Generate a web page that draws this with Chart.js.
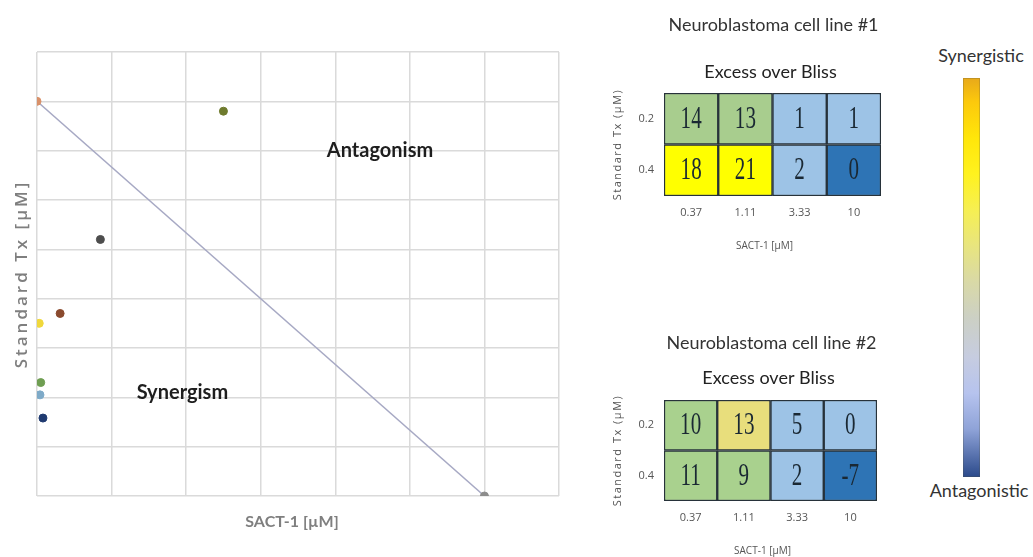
<!DOCTYPE html>
<html>
<head>
<meta charset="utf-8">
<script src="https://cdn.jsdelivr.net/npm/chart.js"></script>
<style>
  body { margin: 0; background: #fff; width: 1033px; height: 557px; position: relative; overflow: hidden; font-family: Lato, sans-serif; }
  canvas { position: absolute; }
  #scatter { left: 0; top: 0; }
  #heat1 { left: 590px; top: 0; }
  #heat2 { left: 590px; top: 320px; }
  .bar {
    position: absolute; left: 963px; top: 78px; width: 17px; height: 399px;
    background: linear-gradient(to bottom, #e8a91a 0%, #fcc90c 6%, #ffe60a 15%, #fff21e 24%, #f6ef52 33%, #e8e57e 42%, #d9d9a6 51%, #ccd0c4 60%, #c6cce0 70%, #b6c3ee 79%, #8fa3d8 88%, #2b4a8b 100%);
    box-shadow: inset 0 0 0 1px rgba(80,80,60,0.25);
  }
  .lbl { position: absolute; transform: translate(-50%, -50%); font-size: 18px; color: #333; white-space: nowrap; }
</style>
</head>
<body>
<canvas id="scatter" width="590" height="557"></canvas>
<canvas id="heat1" width="310" height="280"></canvas>
<canvas id="heat2" width="310" height="237"></canvas>
<div class="bar"></div>
<div class="lbl" style="left:981px;top:55px">Synergistic</div>
<div class="lbl" style="left:979px;top:490px">Antagonistic</div>
<script>
// isobologram points
const pointX = [0, 2.5, 0.85, 0.31, 0.03, 0.05, 0.04, 0.08, 6];
const pointY = [8, 7.8, 5.2, 3.7, 3.5, 2.3, 2.05, 1.58, 0];
const pointColors = ['#d9916a', '#6f7b2e', '#4d4d4d', '#8a4a2e', '#f0d83c', '#6f9e52', '#7eaac8', '#1f3a70', '#8c8c8c'];
// additivity line
const lineX = [0, 6];
const lineY = [8, 0];
// region labels
const regionNames = ['Antagonism', 'Synergism'];
const regionX = [4.6, 1.95];
const regionY = [7.0, 2.1];

// heatmaps: Excess over Bliss
const doseCols = ['0.37', '1.11', '3.33', '10'];
const doseRows = ['0.4', '0.2'];
const line1Row04 = [18, 21, 2, 0];
const line1Row02 = [14, 13, 1, 1];
const line2Row04 = [11, 9, 2, -7];
const line2Row02 = [10, 13, 5, 0];
const line1Fill04 = ['#ffff00', '#ffff00', '#9dc3e6', '#2e74b5'];
const line1Fill02 = ['#a8cd8e', '#a8cd8e', '#9dc3e6', '#9dc3e6'];
const line2Fill04 = ['#a9d18e', '#a9d18e', '#9dc3e6', '#2e74b5'];
const line2Fill02 = ['#a9d18e', '#e8de7c', '#9dc3e6', '#9dc3e6'];

const scatterText = {
  id: 'scatterText',
  afterDraw(chart) {
    const { ctx, chartArea: a, scales: { x, y } } = chart;
    ctx.save();
    ctx.textAlign = 'center';
    ctx.textBaseline = 'middle';
    ctx.fillStyle = '#1e1e1e';
    ctx.font = 'bold 20px Lato';
    regionNames.forEach((t, i) => ctx.fillText(t, x.getPixelForValue(regionX[i]), y.getPixelForValue(regionY[i])));

    ctx.fillStyle = '#7f7f7f';
    ctx.font = 'bold 16px Lato';
    ctx.fillText('SACT-1 [µM]', (a.left + a.right) / 2 - 6, a.bottom + 26);

    ctx.translate(22, (a.top + a.bottom) / 2);
    ctx.rotate(-Math.PI / 2);
    ctx.font = '600 17px "Open Sans"';
    ctx.letterSpacing = '3px';
    ctx.fillText('Standard Tx [µM]', 0, 0);
    ctx.restore();
  }
};

new Chart(document.getElementById('scatter'), {
  type: 'scatter',
  data: {
    datasets: [{
      data: lineX.map((v, i) => ({ x: v, y: lineY[i] })),
      showLine: true,
      borderColor: '#a7a9c4',
      borderWidth: 1.5,
      pointRadius: 0,
      order: 2
    }, {
      data: pointX.map((v, i) => ({ x: v, y: pointY[i] })),
      pointRadius: 4,
      pointBackgroundColor: pointColors,
      pointBorderColor: pointColors,
      order: 1
    }]
  },
  options: {
    responsive: false,
    animation: false,
    layout: { padding: { left: 37, top: 52, right: 31, bottom: 61 } },
    plugins: { legend: { display: false }, tooltip: { enabled: false } },
    scales: {
      x: {
        min: 0, max: 7,
        ticks: { display: false, stepSize: 1 },
        grid: { color: '#dadada', lineWidth: 1.5, drawTicks: false },
        border: { display: false }
      },
      y: {
        min: 0, max: 9,
        ticks: { display: false, stepSize: 1 },
        grid: { color: '#dadada', lineWidth: 1.5, drawTicks: false },
        border: { display: false }
      }
    }
  },
  plugins: [scatterText]
});

const heatText = {
  id: 'heatText',
  afterDatasetsDraw(chart, args, opts) {
    const { ctx, chartArea: a, scales: { x, y } } = chart;
    ctx.save();
    ctx.textAlign = 'center';
    ctx.textBaseline = 'middle';

    // cell values
    ctx.fillStyle = '#1a2833';
    ctx.font = '31px "Liberation Serif"';
    chart.data.datasets.forEach((ds, di) => {
      chart.getDatasetMeta(di).data.forEach((bar, i) => {
        ctx.save();
        ctx.translate(bar.x, (bar.y + bar.base) / 2 + 1);
        ctx.scale(0.68, 1);
        ctx.fillText(ds.values[i], 0, 0);
        ctx.restore();
      });
    });

    // titles
    const cx = (a.left + a.right) / 2;
    ctx.fillStyle = '#333';
    ctx.font = '18px Lato';
    ctx.fillText(opts.title, cx + 1, opts.titleY);
    ctx.fillStyle = '#222';
    ctx.fillText('Excess over Bliss', cx - 2, opts.subY);

    // axis labels
    ctx.fillStyle = '#555';
    ctx.font = '11px "Open Sans"';
    doseCols.forEach((c, i) => ctx.fillText(c, x.getPixelForValue(i), a.bottom + 17));
    ctx.textAlign = 'right';
    doseRows.forEach((r, i) => ctx.fillText(r, a.left - 10, y.getPixelForValue(i + 0.5)));
    ctx.textAlign = 'center';
    ctx.font = '10px "Open Sans"';
    ctx.fillText('SACT-1 [µM]', cx - 8, a.bottom + 50);

    ctx.translate(28, (a.top + a.bottom) / 2);
    ctx.rotate(-Math.PI / 2);
    ctx.font = '11px "Open Sans"';
    ctx.letterSpacing = '1.5px';
    ctx.fillText('Standard Tx (µM)', 0, 0);
    ctx.restore();
  }
};

function heatmap(id, row04, row02, fill04, fill02, pluginOpts, padding) {
  const cell = {
    borderColor: '#27323a',
    borderWidth: 1.5,
    borderSkipped: false,
    barPercentage: 1,
    categoryPercentage: 1
  };
  new Chart(document.getElementById(id), {
    type: 'bar',
    data: {
      labels: doseCols,
      datasets: [
        Object.assign({ label: doseRows[0], data: row04.map(() => 1), values: row04, backgroundColor: fill04 }, cell),
        Object.assign({ label: doseRows[1], data: row02.map(() => 1), values: row02, backgroundColor: fill02 }, cell)
      ]
    },
    options: {
      responsive: false,
      animation: false,
      layout: { padding },
      plugins: { legend: { display: false }, tooltip: { enabled: false }, heatText: pluginOpts },
      scales: {
        x: { stacked: true, ticks: { display: false }, grid: { display: false, drawTicks: false }, border: { display: false } },
        y: { stacked: true, min: 0, max: 2, ticks: { display: false }, grid: { display: false, drawTicks: false }, border: { display: false } }
      }
    },
    plugins: [heatText]
  });
}

heatmap('heat1', line1Row04, line1Row02, line1Fill04, line1Fill02,
  { title: 'Neuroblastoma cell line #1', titleY: 25, subY: 72 },
  { left: 74, right: 19, top: 93, bottom: 84 });
heatmap('heat2', line2Row04, line2Row02, line2Fill04, line2Fill02,
  { title: 'Neuroblastoma cell line #2', titleY: 23, subY: 58 },
  { left: 74, right: 23, top: 80, bottom: 56 });
</script>
</body>
</html>
